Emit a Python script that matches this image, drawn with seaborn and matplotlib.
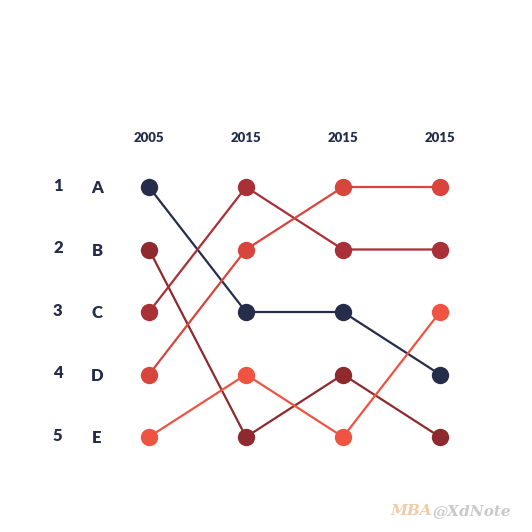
import pandas as pd
import matplotlib.pyplot as plt
import seaborn as sns

# data
years = ["2005", "2015", "2015", "2015"]
items = ["A", "B", "C", "D", "E"]
rank_a = [1, 3, 3, 4]
rank_b = [2, 5, 4, 5]
rank_c = [3, 1, 2, 2]
rank_d = [4, 2, 1, 1]
rank_e = [5, 4, 5, 3]

colors = {"A": "#252d4b", "B": "#8e2a2e", "C": "#a83036", "D": "#d8453c", "E": "#ef5443"}
text_color = "#252d4b"

rows = []
for name, ranks in zip(items, [rank_a, rank_b, rank_c, rank_d, rank_e]):
    for i, r in enumerate(ranks):
        rows.append({"item": name, "col": i, "rank": r})
df = pd.DataFrame(rows)

sns.set_style("white")
plt.rcParams["font.family"] = ["Lato", "DejaVu Sans"]

fig = plt.figure(figsize=(5.32, 5.32), dpi=100)
ax = fig.add_axes([0, 0, 1, 1])

sns.lineplot(data=df, x="col", y="rank", hue="item", palette=colors,
             marker="o", markersize=12.5, markeredgewidth=0, linewidth=1.6,
             legend=False, ax=ax, sort=False, estimator=None)

# pixel-matched limits
ax.set_xlim(-149 / 97, (532 - 149) / 97)
ax.set_ylim(1 + 345 / 62.5, 1 - 187 / 62.5)
ax.axis("off")

for i, y in enumerate(years):
    ax.text(i, 0.21, y, ha="center", va="center", fontsize=9.5,
            fontweight="heavy", color=text_color)

for r, name in enumerate(items, start=1):
    ax.text(-0.94, r - 0.02, str(r), ha="center", va="center", fontsize=12,
            fontweight="heavy", color=text_color)
    ax.text(-0.535, r + 0.02, name, ha="center", va="center", fontsize=12,
            fontweight="heavy", color=text_color)

fig.text(432 / 532, 1 - 511 / 532, "MBA", ha="right", va="center", fontsize=11,
         family="DejaVu Serif", fontweight="bold", style="italic", color="#f2caa5")
fig.text(432 / 532, 1 - 511 / 532, "@XdNote", ha="left", va="center", fontsize=11,
         family="DejaVu Serif", fontweight="bold", style="italic", color="#c9c9cc")

fig.savefig("out.png", dpi=100)
